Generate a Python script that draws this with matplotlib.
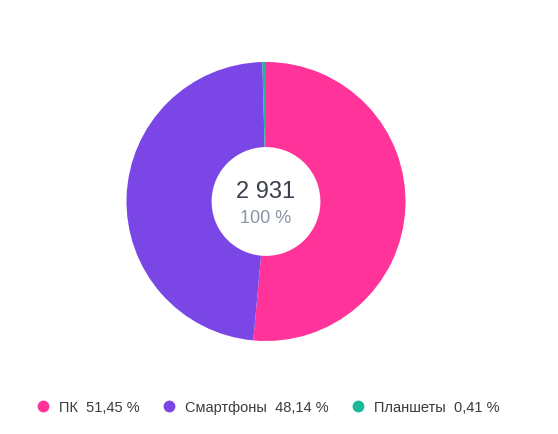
import matplotlib
matplotlib.use("Agg")
import matplotlib.pyplot as plt
from matplotlib.lines import Line2D

plt.rcParams['font.family'] = ['Liberation Sans', 'DejaVu Sans']

labels = ["ПК", "Смартфоны", "Планшеты"]
counts = [1508, 1411, 12]
colors = ["#ff3399", "#7b46e6", "#1bb99a"]

total = sum(counts)
shares = [c / total * 100 for c in counts]

fig = plt.figure(figsize=(5.58, 4.35), dpi=100)
ax = fig.add_axes([0.2267, 0.2138, 0.5, 0.6414])
ax.pie(counts, colors=colors, startangle=90, counterclock=False,
       radius=1.0, wedgeprops=dict(width=0.61, linewidth=0))
ax.set_xlim(-1, 1)
ax.set_ylim(-1, 1)
ax.set_aspect('equal')
ax.axis('off')

total_txt = f"{total:,}".replace(",", " ")
ax.text(0, 0.075, total_txt, ha='center', va='center', fontsize=17, color="#3a3f4b")
ax.text(0, -0.115, "100 %", ha='center', va='center', fontsize=13, color="#8b93a7")

handles = [Line2D([], [], marker='o', linestyle='none', markersize=7.5,
                  markerfacecolor=c, markeredgecolor=c) for c in colors]
leg_labels = [f"{n}  {s:.2f} %".replace(".", ",") for n, s in zip(labels, shares)]
fig.legend(handles, leg_labels, loc='center', bbox_to_anchor=(0.481, 0.062),
           ncol=3, frameon=False, fontsize=10.5, handlelength=0.7,
           handletextpad=0.75, columnspacing=1.65, labelcolor="#3c3c3c")

fig.savefig("out.png", dpi=100)
